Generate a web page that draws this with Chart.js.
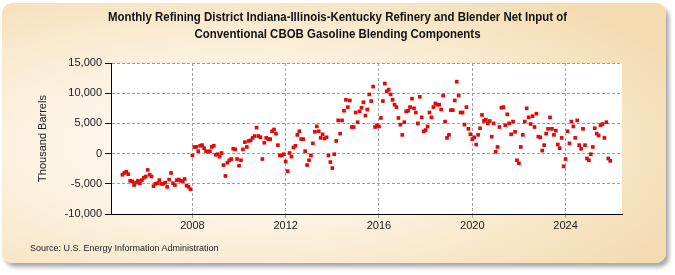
<!DOCTYPE html>
<html>
<head>
<meta charset="utf-8">
<script src="https://cdn.jsdelivr.net/npm/chart.js@4.4.1/dist/chart.umd.min.js"></script>
<style>
  html, body { margin: 0; padding: 0; background: #fff; }
  #wrap { position: relative; width: 675px; height: 275px; overflow: hidden; }
  #frame {
    position: absolute; left: 2px; top: 3px; width: 664px; height: 260px;
    border-radius: 10px;
    background: radial-gradient(ellipse 75% 75% at 35% 55%, #fffdf9 0%, #fcf1df 45%, #f4dbb0 100%);
    box-shadow: 3px 4px 4px rgba(0, 0, 0, 0.35);
  }
  #chart { position: absolute; left: 0; top: 0; }
  #title {
    position: absolute; left: 0; top: 8px; width: 675px;
    text-align: center; white-space: nowrap;
    font: bold 13px/17px "Liberation Sans", Arial, sans-serif; color: #111;
    transform: scaleX(0.88); transform-origin: 337.5px 0;
  }
  #source {
    position: absolute; left: 30px; top: 243px;
    font: 9px "Liberation Sans", Arial, sans-serif; color: #222;
  }
</style>
</head>
<body>
<div id="wrap">
  <div id="frame"></div>
  <canvas id="chart" width="675" height="275"></canvas>
  <div id="title"></div>
  <div id="source">Source: U.S. Energy Information Administration</div>
</div>
<script>
// monthly values, thousand barrels, Jan..Dec
const y2005 = [-3500, -3200, -3000, -3400, -4500, -4600, -5200, -4800, -4500, -4900, -4400, -4000];
const y2006 = [-3800, -2700, -3500, -3800, -5400, -5000, -4900, -4400, -5000, -5000, -4800, -5500];
const y2007 = [-4300, -3200, -4900, -5200, -4400, -4300, -4500, -4600, -4200, -5300, -5500, -5900];
const y2008 = [-300, 1100, 1100, 400, 1300, 1400, 900, 400, 300, 400, 1100, 1300];
const y2009 = [-200, -100, -500, 100, -1900, -3700, -1500, -1100, -900, 800, 700, -900];
const y2010 = [-2000, -1100, 700, 1900, 1100, 2100, 2200, 2600, 2900, 4300, 2900, 2700];
const y2011 = [-900, 1800, 2600, 2400, 2400, 3700, 4000, 3300, 1400, -300, -300, -100];
const y2012 = [-1300, -2900, 100, -500, 1000, 1300, 3100, 3700, 2400, 2400, 400, -1900];
const y2013 = [-1100, -300, 1700, 3600, 4500, 3700, 2600, 3200, 2500, 2700, -300, -1400];
const y2014 = [-2400, -100, 2100, 5500, 3300, 5500, 7100, 8900, 7700, 8800, 4400, 4400];
const y2015 = [6800, 5200, 7000, 7600, 8500, 6300, 7300, 9800, 8700, 11100, 4400, 4700];
const y2016 = [4500, 5900, 8700, 11600, 10300, 10600, 9800, 8900, 8100, 7700, 5900, 4800];
const y2017 = [3100, 5200, 7000, 7100, 7700, 9100, 7500, 6800, 5000, 9400, 6000, 3700];
const y2018 = [3900, 4500, 6800, 6000, 7700, 8300, 8100, 8100, 7300, 9600, 5300, 2600];
const y2019 = [3100, 7200, 7200, 8800, 11900, 9600, 6800, 6800, 4800, 7700, 4100, 3200];
const y2020 = [2400, 2700, 1500, 3100, 4200, 6400, 5400, 5600, 5000, 5400, 2800, 5000];
const y2021 = [300, 1100, 4400, 7600, 7700, 4700, 6500, 5000, 3200, 5300, 3600, -1100];
const y2022 = [-1600, 1100, 3100, 5300, 7500, 6000, 4900, 6200, 4400, 6600, 2800, 2700];
const y2023 = [500, 1400, 3300, 4100, 6000, 4100, 3100, 3800, 1500, 900, 2600, -2100];
const y2024 = [-900, 3700, 1700, 5300, 4500, 2600, 5500, 1400, 800, 4100, 1400, -800];
const y2025 = [-1100, -100, 1100, 4200, 3300, 3000, 4700, 4900, 2600, 5200, -800, -1200];

const yearRows = [y2005, y2006, y2007, y2008, y2009, y2010, y2011, y2012, y2013, y2014, y2015,
                  y2016, y2017, y2018, y2019, y2020, y2021, y2022, y2023, y2024, y2025];
const firstYear = 2005;

const yearTicks = [2008, 2012, 2016, 2020, 2024];
const valueTicks = [-10000, -5000, 0, 5000, 10000, 15000];

const titleLines = [
  "Monthly Refining District Indiana-Illinois-Kentucky Refinery and Blender Net Input of",
  "Conventional CBOB Gasoline Blending Components"
];

const titleEl = document.getElementById("title");
titleLines.forEach(line => {
  const d = document.createElement("div");
  d.textContent = line;
  titleEl.appendChild(d);
});

const points = [];
yearRows.forEach((row, k) => {
  row.forEach((v, m) => points.push({ x: firstYear + k + m / 12, y: v }));
});

const sans = "'Liberation Sans', Arial, sans-serif";

const plotBg = {
  id: "plotBg",
  beforeDraw(chart) {
    const { ctx, chartArea: a } = chart;
    ctx.save();
    ctx.fillStyle = "#fff";
    ctx.fillRect(a.left, a.top, a.right - a.left, a.bottom - a.top);
    ctx.restore();
  }
};

new Chart(document.getElementById("chart"), {
  type: "scatter",
  data: {
    datasets: [{
      data: points,
      pointStyle: "rect",
      pointRadius: 2.6,
      pointHoverRadius: 2.6,
      backgroundColor: "#e00a0a",
      borderWidth: 0
    }]
  },
  options: {
    responsive: false,
    animation: false,
    events: [],
    layout: { padding: { left: 28, right: 53, top: 63, bottom: 41 } },
    plugins: {
      legend: { display: false },
      tooltip: { enabled: false },
      title: { display: false }
    },
    scales: {
      x: {
        type: "linear",
        min: 2004.51,
        max: 2026.42,
        afterBuildTicks: s => { s.ticks = yearTicks.map(v => ({ value: v })); },
        afterFit: s => { s.height = 20; },
        ticks: {
          callback: v => String(v),
          font: { family: sans, size: 11 },
          color: "#222",
          padding: 0,
          maxRotation: 0,
          autoSkip: false
        },
        grid: { color: "#a0a0a0", tickColor: "#a0a0a0", tickLength: 5, tickBorderDash: [3, 2] },
        border: { color: "#000", width: 1, dash: [3, 2] }
      },
      y: {
        min: -10000,
        max: 15000,
        afterBuildTicks: s => { s.ticks = valueTicks.map(v => ({ value: v })); },
        afterFit: s => { s.width = 83; },
        ticks: {
          callback: v => v.toLocaleString("en-US"),
          font: { family: sans, size: 11 },
          color: "#222",
          padding: 3
        },
        grid: { color: "#a0a0a0", tickColor: "#000", tickLength: 6 },
        border: { color: "#000", width: 1, dash: [3, 2] },
        title: {
          display: true,
          text: "Thousand Barrels",
          color: "#222",
          font: { family: sans, size: 11 },
          padding: { top: 8, bottom: 0 }
        }
      }
    }
  },
  plugins: [plotBg]
});
</script>
</body>
</html>
